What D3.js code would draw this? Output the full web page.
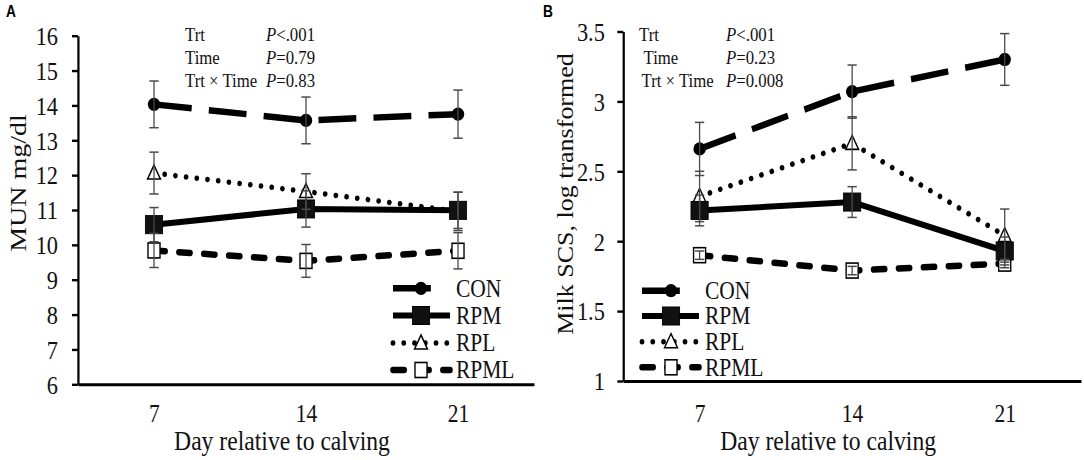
<!DOCTYPE html>
<html><head><meta charset="utf-8">
<script src="https://cdn.jsdelivr.net/npm/d3@7"></script>
<style>body{margin:0;background:#fff} svg{display:block}</style>
</head><body><svg id="c" width="1084" height="460"></svg>
<script>
// ---------- data ----------
const days = [7, 14, 21];
const seriesNames = ["CON", "RPM", "RPL", "RPML"];

// Panel A: MUN mg/dl
const munCON = [14.03, 13.57, 13.75];
const munCONerr = [0.67, 0.67, 0.69];
const munRPM = [10.58, 11.03, 10.99];
const munRPMerr = [0.49, 0.52, 0.52];
const munRPL = [12.06, 11.53, 10.96];
const munRPLerr = [0.60, 0.51, 0.55];
const munRPML = [9.84, 9.54, 9.83];
const munRPMLerr = [0.49, 0.47, 0.52];
const munTicks = [6, 7, 8, 9, 10, 11, 12, 13, 14, 15, 16];
const munTickLabels = ["6", "7", "8", "9", "10", "11", "12", "13", "14", "15", "16"];
const munP = ["<.001", "=0.79", "=0.83"];

// Panel B: Milk SCS, log transformed
const scsCON = [2.66, 3.07, 3.30];
const scsCONerr = [0.19, 0.19, 0.185];
const scsRPM = [2.22, 2.28, 1.93];
const scsRPMerr = [0.11, 0.11, 0.10];
const scsRPL = [2.32, 2.70, 2.04];
const scsRPLerr = [0.18, 0.19, 0.19];
const scsRPML = [1.90, 1.79, 1.84];
const scsRPMLerr = [0.03, 0.03, 0.03];
const scsTicks = [1, 1.5, 2, 2.5, 3, 3.5];
const scsTickLabels = ["1", "1.5", "2", "2.5", "3", "3.5"];
const scsP = ["<.001", "=0.23", "=0.008"];

const statsLabels = ["Trt", "Time", "Trt \u00d7 Time"];
const xTitle = "Day relative to calving";

// ---------- drawing ----------
const SX = 0.86;                 // the reference is horizontally compressed
const px = v => v / SX;
const svg = d3.select("#c");
const root = svg.append("g").attr("transform", `scale(${SX},1)`);
const FONT = "'Liberation Serif','Times New Roman',serif";

const lineStyle = {
  CON:  {w: 6.5, dash: "44 20", cap: "butt"},
  RPM:  {w: 6,   dash: null,    cap: "butt"},
  RPL:  {w: 5.5, dash: "0.01 12.5", cap: "round"},
  RPML: {w: 6.5, dash: "13 16", cap: "round"}
};

function drawMarker(g, type, cx, cy) {
  if (type === "CON") {
    g.append("ellipse").attr("cx", cx).attr("cy", cy).attr("rx", 7.2).attr("ry", 6.6).attr("fill", "#000");
  } else if (type === "RPM") {
    g.append("rect").attr("x", cx - 10).attr("y", cy - 9).attr("width", 20).attr("height", 18)
      .attr("fill", "#111").attr("stroke", "#000").attr("stroke-width", 1);
  } else if (type === "RPL") {
    g.append("path").attr("d", `M${cx},${cy - 8}L${cx + 7.5},${cy + 6}L${cx - 7.5},${cy + 6}Z`)
      .attr("fill", "#fff").attr("stroke", "#000").attr("stroke-width", 1.6);
  } else {
    g.append("rect").attr("x", cx - 7).attr("y", cy - 7.5).attr("width", 14).attr("height", 15)
      .attr("fill", "#fff").attr("stroke", "#000").attr("stroke-width", 1.6);
  }
}

function styledLine(g, name, d) {
  const s = lineStyle[name];
  const p = g.append("path").attr("d", d).attr("fill", "none").attr("stroke", "#000")
    .attr("stroke-width", s.w).attr("stroke-linecap", s.cap);
  if (s.dash) p.attr("stroke-dasharray", s.dash);
  return p;
}

function drawPanel(cfg) {
  const g = root.append("g");
  const x = d3.scalePoint().domain(days).range([px(cfg.x0), px(cfg.x1)]).padding(0.5);
  const y = d3.scaleLinear().domain(cfg.domain).range([cfg.yBottom, cfg.yTop]);

  // axes
  const yAxis = d3.axisLeft(y).tickValues(cfg.ticks)
    .tickFormat((d, i) => cfg.tickLabels[i]).tickSize(px(6)).tickSizeOuter(0).tickPadding(cfg.tickPad);
  const ya = g.append("g").attr("transform", `translate(${px(cfg.x0)},0)`).call(yAxis);
  ya.select(".domain").attr("stroke", "#000").attr("stroke-width", 2.6);
  ya.selectAll(".tick line").attr("stroke", "#000").attr("stroke-width", 2.4);
  ya.selectAll("text").attr("font-family", FONT).attr("font-size", 26).attr("fill", "#111").attr("dy", "0.34em");

  const xAxis = d3.axisBottom(x).tickSize(0).tickSizeOuter(0);
  const xa = g.append("g").attr("transform", `translate(0,${cfg.yBottom})`).call(xAxis);
  xa.select(".domain").attr("stroke", "#000").attr("stroke-width", 3);
  xa.selectAll("text").attr("font-family", FONT).attr("font-size", 25).attr("fill", "#111")
    .attr("y", 422 - cfg.yBottom).attr("dy", 0);

  // axis titles
  g.append("text").attr("x", x(14) - px(24)).attr("y", 450).attr("text-anchor", "middle")
    .attr("font-family", FONT).attr("font-size", 27.5).attr("fill", "#111").text(xTitle);
  g.append("text").attr("transform", `translate(${px(cfg.yTitleX)},${cfg.yTitleY}) rotate(-90)`)
    .attr("text-anchor", "middle").attr("font-family", FONT).attr("font-size", cfg.yTitleSize)
    .attr("fill", "#111").text(cfg.yTitle);

  // stats text
  const rowsY = [41.5, 64.5, 87];
  statsLabels.forEach((s, i) => {
    g.append("text").attr("x", px(cfg.statX[i])).attr("y", rowsY[i]).attr("font-family", FONT)
      .attr("font-size", 19.5).attr("fill", "#111").text(s);
    const t = g.append("text").attr("x", px(cfg.pX)).attr("y", rowsY[i]).attr("font-family", FONT)
      .attr("font-size", 19.5).attr("fill", "#111");
    t.append("tspan").attr("font-style", "italic").text("P");
    t.append("tspan").text(cfg.p[i]);
  });

  // series lines
  const order = ["RPL", "RPML", "CON", "RPM"];
  const lineGen = d3.line().x(d => x(d.day)).y(d => y(d.v));
  order.forEach(name => {
    const pts = days.map((dd, i) => ({day: dd, v: cfg.values[name][i]}));
    styledLine(g, name, lineGen(pts));
  });
  // markers
  order.forEach(name => {
    days.forEach((dd, i) => drawMarker(g, name, x(dd), y(cfg.values[name][i])));
  });
  // error bars
  const cap = 5.4;
  order.forEach(name => {
    days.forEach((dd, i) => {
      const v = cfg.values[name][i], e = cfg.errors[name][i];
      const cx = x(dd), t = y(v + e), b = y(v - e);
      const eb = g.append("g").attr("stroke", "#4a4a4a").attr("stroke-width", 1.5);
      eb.append("line").attr("x1", cx).attr("x2", cx).attr("y1", t).attr("y2", b);
      eb.append("line").attr("x1", cx - cap).attr("x2", cx + cap).attr("y1", t).attr("y2", t);
      eb.append("line").attr("x1", cx - cap).attr("x2", cx + cap).attr("y1", b).attr("y2", b);
    });
  });

  // legend
  seriesNames.forEach((name, i) => {
    const cy = cfg.legY[i];
    const x1 = name === "CON" ? cfg.legLineEndCON : cfg.legLineEnd;
    styledLine(g, name, `M${px(cfg.legX0)},${cy}L${px(x1)},${cy}`);
    drawMarker(g, name, px(cfg.legMarkX), cy);
    g.append("text").attr("x", px(cfg.legTextX)).attr("y", cy + 8.5).attr("font-family", FONT)
      .attr("font-size", 25).attr("fill", "#111").text(name);
  });

  // panel letter
  g.append("text").attr("x", px(cfg.letterX)).attr("y", 17).attr("font-family", "'Liberation Sans',Arial,sans-serif")
    .attr("font-weight", "bold").attr("font-size", 16).attr("fill", "#000").text(cfg.letter);
}

drawPanel({
  letter: "A", letterX: 6,
  x0: 78, x1: 534, yTop: 35.7, yBottom: 384.3, domain: [6, 16],
  ticks: munTicks, tickLabels: munTickLabels, tickPad: px(14),
  yTitle: "MUN mg/dl", yTitleX: 26, yTitleY: 183, yTitleSize: 28,
  statX: [185, 185, 185], pX: 266, p: munP,
  values: {CON: munCON, RPM: munRPM, RPL: munRPL, RPML: munRPML},
  errors: {CON: munCONerr, RPM: munRPMerr, RPL: munRPLerr, RPML: munRPMLerr},
  legY: [288.3, 315.5, 343, 370], legX0: 393, legLineEnd: 450, legLineEndCON: 435, legMarkX: 421, legTextX: 456
});

drawPanel({
  letter: "B", letterX: 543,
  x0: 623.3, x1: 1081, yTop: 31.5, yBottom: 381, domain: [1, 3.5],
  ticks: scsTicks, tickLabels: scsTickLabels, tickPad: px(12.5),
  yTitle: "Milk SCS, log transformed", yTitleX: 573, yTitleY: 194, yTitleSize: 26,
  statX: [639, 643.5, 641.5], pX: 726, p: scsP,
  values: {CON: scsCON, RPM: scsRPM, RPL: scsRPL, RPML: scsRPML},
  errors: {CON: scsCONerr, RPM: scsRPMerr, RPL: scsRPLerr, RPML: scsRPMLerr},
  legY: [290.7, 316, 341.7, 367.3], legX0: 642, legLineEnd: 699, legLineEndCON: 684, legMarkX: 671, legTextX: 705
});
</script></body></html>
